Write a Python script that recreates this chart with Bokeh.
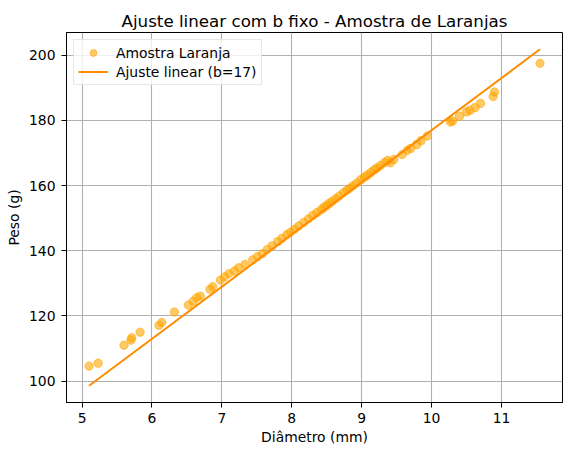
from bokeh.plotting import figure
from bokeh.models import FixedTicker, Range1d, Legend, LegendItem
from bokeh.embed import file_html
from bokeh.resources import INLINE

# --- data ---
diametro = [5.10, 5.23, 5.60, 5.70, 5.71, 5.83, 6.10, 6.14, 6.32, 6.52, 6.59, 6.64, 6.69,
            6.83, 6.87, 6.98, 7.04, 7.10, 7.18, 7.24, 7.33, 7.44, 7.51,
            7.58, 7.65, 7.72, 7.80, 7.86, 7.93, 7.98, 8.04, 8.10, 8.17, 8.24, 8.30, 8.36,
            8.42, 8.46, 8.50, 8.54, 8.58, 8.63, 8.68, 8.74, 8.79, 8.83, 8.88, 8.93, 8.99,
            9.04, 9.08, 9.13, 9.18, 9.22, 9.27, 9.33, 9.37,
            9.41, 9.46, 9.58, 9.65, 9.70, 9.79, 9.85, 9.94, 10.27, 10.30, 10.40, 10.50,
            10.55, 10.62, 10.70, 10.88, 10.90, 11.55]
peso = [104.6, 105.5, 111.0, 112.6, 113.3, 115.0, 117.1, 118.0, 121.2, 123.3, 124.5, 125.6, 126.1,
        128.2, 129.0, 131.0, 132.0, 133.0, 133.8, 134.8, 135.8, 137.2, 138.2,
        139.1, 140.4, 141.5, 142.8, 143.8, 144.9, 145.7, 146.6, 147.6, 148.7, 149.8, 150.8, 151.7,
        152.6, 153.3, 153.9, 154.6, 155.2, 156.0, 156.8, 157.8, 158.6, 159.2, 160.0, 160.8, 161.8,
        162.6, 163.2, 164.0, 164.8, 165.4, 166.2, 167.1, 167.7,
        167.0, 168.0, 169.5, 170.8, 171.4, 172.6, 173.8, 175.2, 179.5, 179.8, 181.3, 182.6,
        183.1, 183.9, 185.2, 187.3, 188.7, 197.5]
ajuste_x = [5.10, 11.55]
ajuste_y = [98.6, 201.8]
x_ticks = [5, 6, 7, 8, 9, 10, 11]
y_ticks = [100, 120, 140, 160, 180, 200]

FONT = "DejaVu Sans"
FS = "13.9px"

p = figure(width=563, height=452, output_backend="svg", toolbar_location=None,
           x_range=Range1d(4.7775, 11.8725), y_range=Range1d(93.44, 206.96),
           min_border_left=66, min_border_right=1, min_border_top=32, min_border_bottom=50)

p.title.text = "Ajuste linear com b fixo - Amostra de Laranjas"
p.title.align = "center"
p.title.text_font = FONT
p.title.text_font_size = "16.7px"
p.title.text_font_style = "normal"
p.title.text_color = "black"
p.title.standoff = 4

p.background_fill_color = "white"
p.border_fill_color = "white"
p.outline_line_color = "black"
p.outline_line_width = 1

r_pts = p.scatter(diametro, peso, size=8.3, fill_color="#FFA500", line_color="#FFA500",
                  fill_alpha=0.6, line_alpha=0.6)
r_line = p.line(ajuste_x, ajuste_y, line_color="#FF8C00", line_width=2.0)

p.xaxis.ticker = FixedTicker(ticks=x_ticks)
p.yaxis.ticker = FixedTicker(ticks=y_ticks)
for ax in (p.xaxis, p.yaxis):
    ax.minor_tick_line_color = None
    ax.major_tick_in = 0
    ax.major_tick_out = 5
    ax.major_tick_line_color = "black"
    ax.axis_line_color = "black"
    ax.major_label_text_font = FONT
    ax.major_label_text_font_size = FS
    ax.major_label_text_color = "black"
    ax.axis_label_text_font = FONT
    ax.axis_label_text_font_size = FS
    ax.axis_label_text_font_style = "normal"
    ax.axis_label_text_color = "black"
p.xaxis.axis_label = "Diâmetro (mm)"
p.yaxis.axis_label = "Peso (g)"
p.xaxis.major_label_standoff = 5
p.yaxis.major_label_standoff = 6
p.xaxis.axis_label_standoff = 3
p.yaxis.axis_label_standoff = 4

p.grid.grid_line_color = "#b0b0b0"
p.grid.grid_line_width = 1.1

legend = Legend(items=[LegendItem(label="Amostra Laranja", renderers=[r_pts]),
                       LegendItem(label="Ajuste linear (b=17)", renderers=[r_line])],
                location="top_left", margin=7, padding=4, spacing=2,
                glyph_width=30, glyph_height=17, label_height=17, label_standoff=8,
                label_text_font=FONT, label_text_font_size=FS, label_text_color="black",
                border_line_color="#d0d0d0", border_line_width=1,
                background_fill_color="white", background_fill_alpha=0.8)
p.add_layout(legend, "center")

open("out.html", "w").write(file_html(p, INLINE))
